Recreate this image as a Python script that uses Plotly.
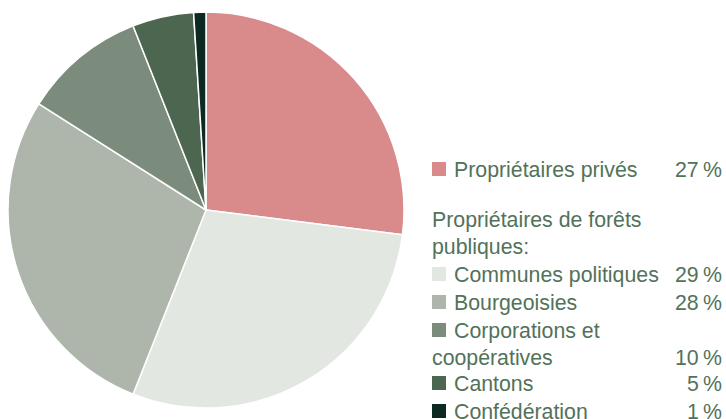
import plotly.graph_objects as go

labels = ["Propriétaires privés", "Communes politiques", "Bourgeoisies",
          "Corporations et coopératives", "Cantons", "Confédération"]
values = [27, 29, 28, 10, 5, 1]
colors = ["#d98a8a", "#e2e7e1", "#aeb5aa", "#7b8c7c", "#4c6650", "#0d2a22"]

W, H = 726, 419
TEXT = "#52725a"
FONT = "Liberation Sans, Arial, Helvetica, sans-serif"
FS = 21.3

fig = go.Figure()
fig.add_trace(go.Pie(
    labels=labels, values=values, sort=False, direction="clockwise", rotation=0,
    marker=dict(colors=colors, line=dict(color="white", width=1.5)),
    textinfo="none", hoverinfo="label+percent", showlegend=False,
    domain=dict(x=[8 / W, 404 / W], y=[(H - 408) / H, (H - 12) / H]),
))

def py(ypx):
    return 1 - ypx / H

annotations = []
shapes = []

rows = [
    (labels[0], values[0], 0, 169),
    ("Propriétaires de forêts", None, None, 219),
    ("publiques:", None, None, 246),
    (labels[1], values[1], 1, 274),
    (labels[2], values[2], 2, 302),
    ("Corporations et", None, 3, 330),
    ("coopératives", values[3], None, 357),
    (labels[4], values[4], 4, 383),
    (labels[5], values[5], 5, 411),
]
for text, val, ci, yc in rows:
    if ci is not None:
        shapes.append(dict(type="rect", xref="paper", yref="paper",
                           x0=432 / W, x1=446 / W, y0=py(yc + 7), y1=py(yc - 7),
                           fillcolor=colors[ci], line=dict(width=0)))
        x0 = 452
    else:
        x0 = 430
    annotations.append(dict(text=text, xref="paper", yref="paper", x=x0 / W, y=py(yc + 1),
                            xanchor="left", yanchor="middle", showarrow=False,
                            font=dict(size=FS, color=TEXT, family=FONT)))
    if val is not None:
        annotations.append(dict(text=f"{val}\u2009%", xref="paper", yref="paper", x=724 / W, y=py(yc + 1),
                                xanchor="right", yanchor="middle", showarrow=False,
                                font=dict(size=FS, color=TEXT, family=FONT)))

fig.update_layout(width=W, height=H, margin=dict(l=0, r=0, t=0, b=0),
                  paper_bgcolor="white", plot_bgcolor="white",
                  annotations=annotations, shapes=shapes)
fig.write_html("out.html")
